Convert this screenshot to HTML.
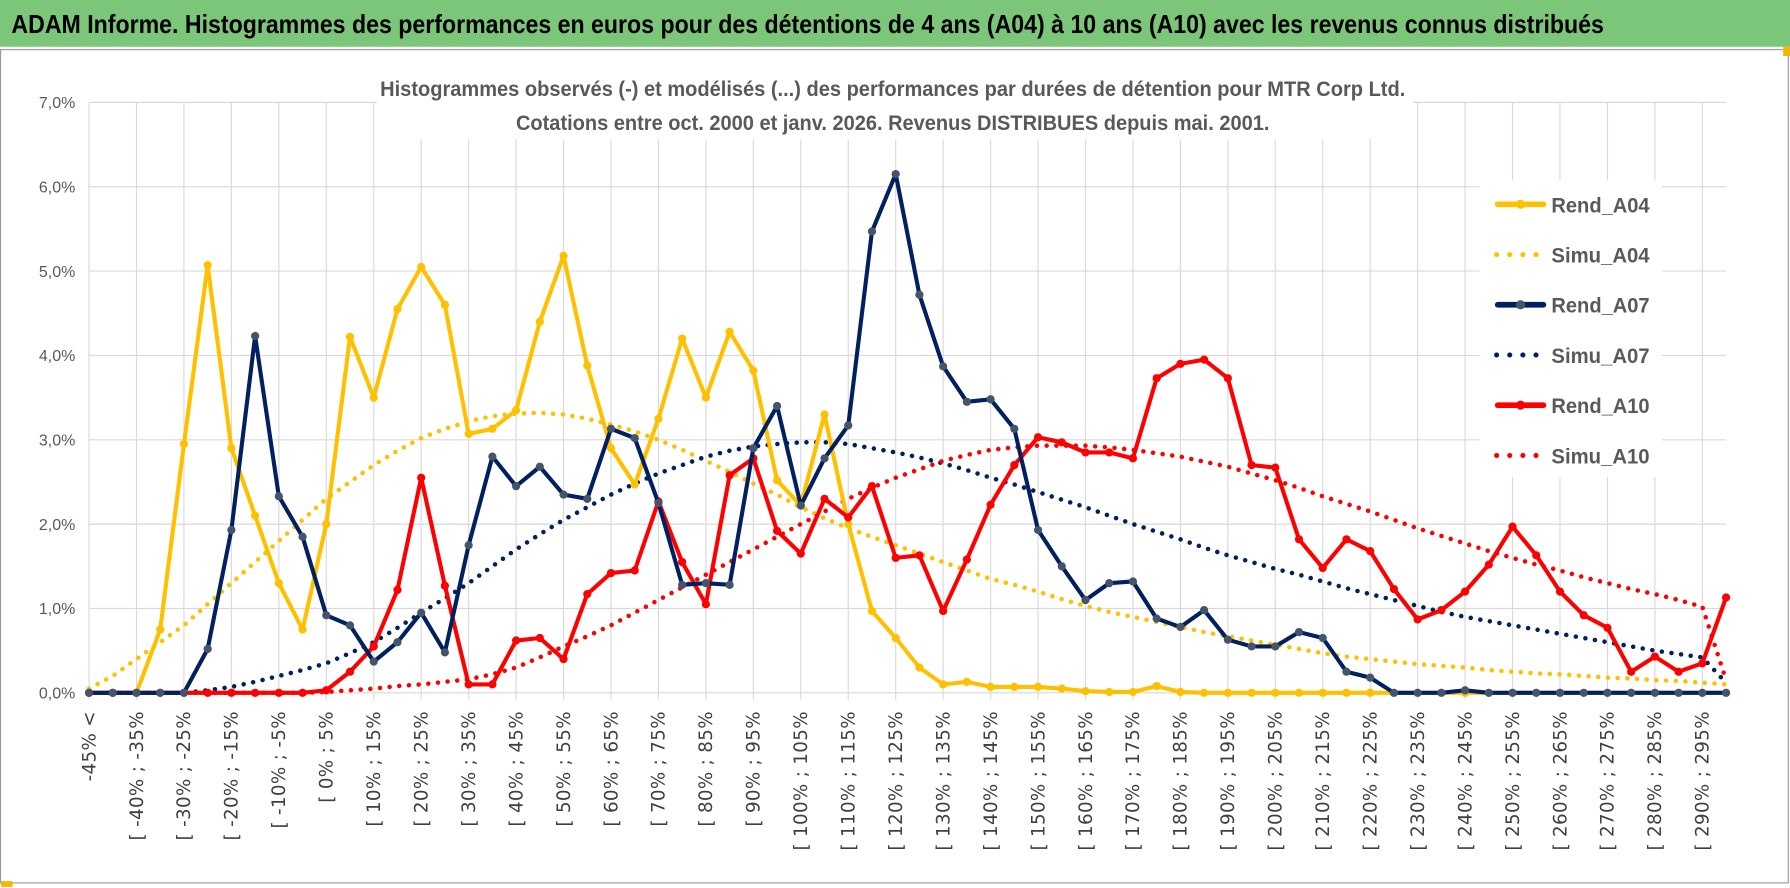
<!DOCTYPE html>
<html><head><meta charset="utf-8"><style>
html,body{margin:0;padding:0;background:#fff;}
svg{display:block;}
text{font-family:"Liberation Sans Narrow","Liberation Sans",sans-serif;}
</style></head><body>
<svg id="chart" width="1790" height="888" viewBox="0 0 1568 778" preserveAspectRatio="none" xmlns="http://www.w3.org/2000/svg">
<rect x="0" y="0" width="1568" height="778" fill="#fff"/>
<rect x="0" y="0" width="1568" height="41" fill="#7cc67a"/>
<text x="10" y="29" font-size="23" font-weight="bold" fill="#000" textLength="1395" lengthAdjust="spacingAndGlyphs">ADAM Informe. Histogrammes des performances en euros pour des détentions de 4 ans (A04) à 10 ans (A10) avec les revenus connus distribués</text>
<rect x="0.5" y="43.5" width="1566" height="730" fill="none" stroke="#9a9a9a" stroke-width="1"/>
<rect x="1562" y="41" width="6" height="8" fill="#f4b400"/>
<rect x="1" y="772" width="10" height="5" fill="#f4b400"/>
<g id="grid"></g>
<g id="ylabels"></g>
<g id="xlabels"></g>
<rect x="330" y="64" width="908" height="58" fill="#fff"/>
<text x="782" y="84" font-size="19" font-weight="bold" fill="#595959" text-anchor="middle" textLength="898" lengthAdjust="spacingAndGlyphs">Histogrammes observés (-) et modélisés (...) des performances par durées de détention pour MTR Corp Ltd.</text>
<text x="782" y="114" font-size="19" font-weight="bold" fill="#595959" text-anchor="middle" textLength="660" lengthAdjust="spacingAndGlyphs">Cotations entre oct. 2000 et janv. 2026. Revenus DISTRIBUES depuis mai. 2001.</text>
<g id="series"></g>
<g id="legend"></g>
</svg>
<script>
const categories = ["-45% <"];
for (let k = 1; k < 70; k++) { categories.push("[ " + (-50 + 5*k) + "% ; " + (-45 + 5*k) + "%"); }
const yTicks = [0,1,2,3,4,5,6,7];
const yTickLabels = ["0,0%","1,0%","2,0%","3,0%","4,0%","5,0%","6,0%","7,0%"];
const rendA04 = [0,0,0,0.75,2.95,5.07,2.9,2.1,1.3,0.75,2.0,4.22,3.5,4.55,5.05,4.6,3.07,3.13,3.35,4.4,5.18,3.88,2.9,2.47,3.25,4.2,3.5,4.28,3.82,2.52,2.22,3.3,2.0,0.97,0.65,0.3,0.1,0.13,0.07,0.07,0.07,0.05,0.02,0.01,0.01,0.08,0.01,0,0,0,0,0,0,0,0,0,0,0,0,0,0,0,0,0,0,0,0,0,0,0];
const simuA04 = [0.05,0.2,0.4,0.6,0.8,1.05,1.3,1.55,1.8,2.05,2.3,2.5,2.7,2.87,3.02,3.13,3.22,3.28,3.31,3.32,3.3,3.25,3.18,3.1,3.0,2.88,2.75,2.62,2.48,2.35,2.2,2.07,1.95,1.85,1.75,1.65,1.55,1.45,1.35,1.28,1.2,1.11,1.03,0.96,0.9,0.84,0.78,0.72,0.67,0.62,0.57,0.52,0.47,0.43,0.4,0.37,0.34,0.32,0.3,0.27,0.25,0.23,0.22,0.2,0.18,0.17,0.15,0.14,0.12,0.1];
const rendA07 = [0,0,0,0,0,0.52,1.93,4.23,2.33,1.85,0.92,0.8,0.37,0.6,0.95,0.48,1.75,2.8,2.45,2.68,2.35,2.3,3.13,3.02,2.25,1.28,1.3,1.28,2.9,3.4,2.22,2.78,3.17,5.47,6.15,4.72,3.87,3.45,3.48,3.13,1.93,1.5,1.1,1.3,1.32,0.88,0.78,0.98,0.63,0.55,0.55,0.72,0.65,0.25,0.18,0,0,0,0.03,0,0,0,0,0,0,0,0,0,0,0];
const simuA07 = [0,0,0,0,0,0.03,0.07,0.13,0.2,0.27,0.35,0.47,0.6,0.77,0.95,1.12,1.3,1.5,1.7,1.88,2.05,2.2,2.35,2.48,2.6,2.7,2.8,2.87,2.92,2.95,2.97,2.97,2.95,2.9,2.85,2.79,2.72,2.64,2.55,2.47,2.38,2.29,2.2,2.1,2.0,1.91,1.82,1.72,1.63,1.55,1.47,1.4,1.32,1.24,1.17,1.1,1.03,0.96,0.9,0.85,0.8,0.75,0.7,0.65,0.6,0.55,0.5,0.46,0.42,0.12];
const rendA10 = [0,0,0,0,0,0,0,0,0,0,0.03,0.25,0.55,1.22,2.55,1.27,0.1,0.1,0.62,0.65,0.4,1.17,1.42,1.45,2.27,1.55,1.05,2.58,2.78,1.92,1.65,2.3,2.08,2.45,1.6,1.63,0.97,1.58,2.23,2.7,3.03,2.97,2.85,2.85,2.78,3.73,3.9,3.95,3.73,2.7,2.67,1.82,1.48,1.82,1.68,1.23,0.87,0.98,1.2,1.52,1.97,1.63,1.2,0.92,0.77,0.25,0.43,0.25,0.35,1.13];
const simuA10 = [0,0,0,0,0,0,0,0,0,0,0.01,0.03,0.05,0.08,0.1,0.13,0.16,0.22,0.3,0.42,0.55,0.67,0.8,0.95,1.1,1.25,1.4,1.55,1.7,1.85,2.0,2.15,2.3,2.43,2.55,2.65,2.75,2.82,2.88,2.91,2.93,2.93,2.93,2.91,2.88,2.84,2.8,2.74,2.68,2.6,2.52,2.43,2.33,2.24,2.15,2.05,1.95,1.86,1.77,1.68,1.6,1.52,1.45,1.37,1.3,1.23,1.17,1.1,1.02,0.15];

const NS = "http://www.w3.org/2000/svg";
const X0 = 78, X1 = 1512, Y0 = 607, YPER = 73.9;
function xPos(i){ return X0 + i * (X1 - X0) / (categories.length - 1); }
function yPos(v){ return Y0 - v * YPER; }
function mk(tag, attrs, parent){ const e = document.createElementNS(NS, tag); for (const k in attrs) e.setAttribute(k, attrs[k]); parent.appendChild(e); return e; }

const grid = document.getElementById('grid');
yTicks.forEach((t, i) => {
  const l = mk('line', {x1: X0, x2: X1, y1: yPos(t), y2: yPos(t), stroke: '#d9d9d9', 'stroke-width': 1}, grid);
  
  
  const tx = mk('text', {x: 66, y: yPos(t) + 5, 'font-size': 14, fill: '#595959', 'text-anchor': 'end'}, document.getElementById('ylabels'));
  tx.textContent = yTickLabels[i];
  
  
});
categories.forEach((c, i) => {
  if (i % 2 !== 0) return;
  const l = mk('line', {x1: xPos(i), x2: xPos(i), y1: yPos(7), y2: yPos(0) + 6, stroke: '#d9d9d9', 'stroke-width': 1}, grid);
  
  
  const x = xPos(i) + 5.5, y = 623;
  const tx = mk('text', {x: x, y: y, 'font-size': 16, fill: '#404040', 'text-anchor': 'end', transform: 'rotate(-90 ' + x + ' ' + y + ')', style: 'font-family:"DejaVu Sans","Liberation Sans",sans-serif;letter-spacing:0.3px'}, document.getElementById('xlabels'));
  tx.textContent = c;
  
  
});

const series = document.getElementById('series');
function drawDotted(vals, color, name){
  const pts = vals.map((v, i) => xPos(i) + ',' + yPos(v)).join(' ');
  const p = mk('polyline', {points: pts, fill: 'none', stroke: color, 'stroke-width': 4, 'stroke-linecap': 'round', 'stroke-dasharray': '0 8.5'}, series);
  
  
}
function drawSolid(vals, color, mcolor, name){
  const pts = vals.map((v, i) => xPos(i) + ',' + yPos(v)).join(' ');
  const p = mk('polyline', {points: pts, fill: 'none', stroke: color, 'stroke-width': 3.6, 'stroke-linejoin': 'round'}, series);
  
  
  vals.forEach((v, i) => {
    const c = mk('circle', {cx: xPos(i), cy: yPos(v), r: 3.6, fill: mcolor}, series);
    
    
  });
}
drawDotted(simuA04, '#ffc000', 'simu-a04-line');
drawDotted(simuA07, '#002060', 'simu-a07-line');
drawDotted(simuA10, '#ff0000', 'simu-a10-line');
drawSolid(rendA04, '#ffc000', '#ffc000', 'rend-a04-line');
drawSolid(rendA10, '#ff0000', '#ff0000', 'rend-a10-line');
drawSolid(rendA07, '#002060', '#44546a', 'rend-a07-line');

const legend = document.getElementById('legend');
mk('rect', {x: 1296, y: 158, width: 160, height: 260, fill: '#fff'}, legend);
const legendNames = ['Rend_A04','Simu_A04','Rend_A07','Simu_A07','Rend_A10','Simu_A10'];
const legendColors = ['#ffc000','#ffc000','#002060','#002060','#ff0000','#ff0000'];
const legendY = [179,223,267,311,355,399];
legendNames.forEach((n, i) => {
  const y = legendY[i];
  const g = mk('g', {}, legend);
  
  
  if (i % 2 === 0) {
    mk('line', {x1: 1312, x2: 1352, y1: y, y2: y, stroke: legendColors[i], 'stroke-width': 5, 'stroke-linecap': 'round'}, g);
    mk('circle', {cx: 1332, cy: y, r: 4, fill: i === 2 ? '#44546a' : legendColors[i]}, g);
  } else {
    mk('line', {x1: 1311, x2: 1352, y1: y, y2: y, stroke: legendColors[i], 'stroke-width': 4.5, 'stroke-linecap': 'round', 'stroke-dasharray': '0 11.5'}, g);
  }
  const t = mk('text', {x: 1359, y: y + 7, 'font-size': 19, 'font-weight': 'bold', fill: '#595959', textLength: 86, lengthAdjust: 'spacingAndGlyphs'}, g);
  t.textContent = n;
});
</script>
</body></html>
